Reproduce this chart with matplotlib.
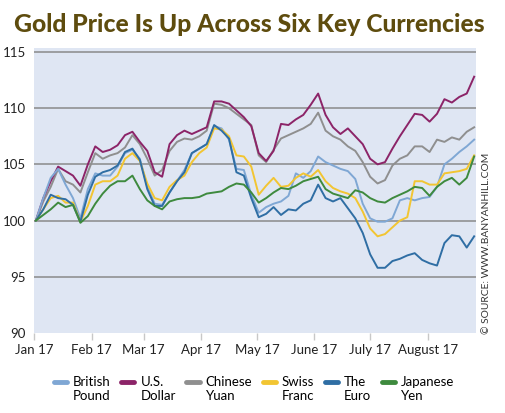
import matplotlib
matplotlib.use("Agg")
import matplotlib.pyplot as plt
import pandas as pd

# sampled every 4 days from Jan 2 2017, index values (Jan 2 = 100)
dates = pd.date_range("2017-01-02", periods=60, freq="4D")

pound = [100.0, 102.0, 103.8, 104.6, 103.2, 102.0, 100.2, 102.8, 104.2, 104.0,
         104.0, 104.8, 106.0, 106.3, 105.5, 103.0, 101.5, 101.4, 102.5, 103.5,
         104.5, 106.0, 106.4, 106.8, 108.4, 108.2, 107.2, 104.6, 104.5, 102.3,
         100.7, 101.2, 101.5, 101.7, 102.2, 104.2, 103.8, 104.4, 105.7, 105.2,
         104.9, 104.6, 104.4, 103.7, 101.5, 100.2, 99.9, 99.9, 100.2, 101.8,
         102.0, 101.8, 102.0, 102.1, 103.0, 105.0, 105.5, 106.1, 106.6, 107.2]
dollar = [100.0, 102.0, 103.5, 104.8, 104.4, 104.0, 103.1, 105.0, 106.6, 106.1,
          106.3, 106.7, 107.6, 107.9, 107.0, 106.2, 104.3, 103.9, 106.8, 107.6,
          108.0, 107.7, 108.0, 108.3, 110.6, 110.6, 110.4, 109.8, 109.2, 108.4,
          106.0, 105.3, 106.2, 108.6, 108.5, 109.0, 109.4, 110.3, 111.3, 109.4,
          108.3, 107.7, 108.2, 107.5, 106.8, 105.5, 105.0, 105.2, 106.4, 107.5,
          108.5, 109.5, 109.4, 108.8, 109.5, 110.8, 110.5, 111.0, 111.3, 112.8]
yuan = [100.0, 101.7, 103.0, 104.6, 103.5, 103.2, 102.5, 104.3, 106.0, 105.5,
        105.8, 106.0, 106.5, 107.6, 106.8, 105.5, 104.0, 104.5, 106.2, 107.0,
        107.3, 107.2, 107.5, 108.0, 110.4, 110.3, 110.0, 109.5, 109.0, 108.5,
        105.8, 105.2, 106.3, 107.3, 107.6, 107.9, 108.2, 108.6, 109.6, 108.0,
        107.5, 107.2, 106.6, 106.2, 105.2, 103.9, 103.3, 103.6, 104.9, 105.5,
        105.8, 106.6, 106.6, 106.1, 107.2, 107.0, 107.4, 107.2, 107.9, 108.3]
franc = [100.0, 101.0, 102.0, 102.2, 101.6, 101.6, 99.9, 101.3, 103.2, 103.5,
         103.5, 104.0, 105.5, 106.0, 105.3, 103.3, 102.0, 101.8, 103.0, 103.6,
         104.0, 105.2, 106.0, 106.5, 108.2, 108.1, 107.5, 105.8, 105.7, 104.8,
         102.3, 103.1, 103.8, 103.0, 103.1, 103.8, 104.2, 103.9, 104.5, 103.5,
         102.9, 102.6, 102.4, 102.0, 100.8, 99.3, 98.6, 98.8, 99.4, 100.0,
         100.3, 103.5, 103.5, 103.2, 103.2, 104.2, 104.3, 104.4, 104.6, 105.8]
euro = [100.0, 101.0, 102.3, 102.0, 101.9, 101.4, 99.9, 102.3, 103.9, 104.3,
        104.5, 104.9, 106.1, 106.4, 105.4, 102.8, 101.3, 101.3, 102.5, 103.5,
        104.3, 106.0, 106.4, 106.8, 108.5, 108.0, 107.3, 104.3, 104.0, 102.0,
        100.3, 100.6, 101.2, 100.5, 101.0, 100.9, 101.5, 101.8, 103.2, 102.0,
        101.7, 102.0, 101.1, 100.2, 98.9, 97.0, 95.8, 95.8, 96.4, 96.6,
        96.9, 97.1, 96.5, 96.2, 96.0, 98.0, 98.7, 98.6, 97.6, 98.6]
yen = [100.0, 100.5, 101.0, 101.6, 101.2, 101.4, 99.8, 100.4, 101.5, 102.4,
       103.1, 103.5, 103.5, 104.0, 102.8, 101.8, 101.3, 101.0, 101.7, 101.9,
       102.0, 102.0, 102.1, 102.4, 102.5, 102.6, 103.0, 103.3, 103.2, 102.5,
       101.6, 102.0, 102.5, 102.9, 102.8, 103.1, 103.5, 103.7, 103.9, 102.8,
       102.4, 102.2, 102.0, 102.7, 102.5, 102.0, 101.7, 101.6, 102.0, 102.3,
       102.6, 103.0, 102.9, 102.2, 103.0, 103.5, 103.8, 103.2, 103.8, 105.7]

labels = ["British\nPound", "U.S.\nDollar", "Chinese\nYuan", "Swiss\nFranc", "The\nEuro", "Japanese\nYen"]
colors = ["#7fa7d4", "#8c2468", "#8f8f8f", "#f2c532", "#2f6ea4", "#3e8a3e"]
zorders = [4, 3, 2, 5, 6, 7]
month_ticks = pd.date_range("2017-01-01", "2017-08-01", freq="MS")
month_labels = ["Jan 17", "Feb 17", "Mar 17", "Apr 17", "May 17", "June 17", "July 17", "August 17"]
yticks = [90, 95, 100, 105, 110, 115]

plt.rcParams["font.family"] = ["Lato", "DejaVu Sans"]

fig = plt.figure(figsize=(5.05, 4.13), dpi=100)
ax = fig.add_axes([0.0673, 0.1937, 0.8753, 0.6903])
ax.set_facecolor("#dfe6f3")

for series, lab, col, z in zip([pound, dollar, yuan, franc, euro, yen], labels, colors, zorders):
    ax.plot(dates, series, color=col, lw=1.4, label=lab, zorder=z)

ax.set_ylim(90, 115.36)
ax.set_xlim(pd.Timestamp("2017-01-01"), pd.Timestamp("2017-08-27"))
ax.set_yticks(yticks)
ax.set_yticklabels([str(v) for v in yticks])
for v in yticks[1:]:
    ax.axhline(v, color="#8a8a8a", lw=1.1, zorder=1)

ax.set_xticks(month_ticks)
ax.set_xticklabels(month_labels)
ax.tick_params(axis="x", length=5, color="#c8c8c8", width=1, pad=3, labelsize=9.5, labelcolor="#222222")
ax.tick_params(axis="y", length=0, pad=6, labelsize=9.5, labelcolor="#222222")
for s in ax.spines.values():
    s.set_visible(False)

fig.text(0.028, 0.94, "Gold Price Is Up Across Six Key Currencies", fontsize=17.8,
         fontweight="black", color="#5e4c0e", va="center", ha="left")
fig.text(0.963, 0.41, "\u00a9 SOURCE: WWW.BANYANHILL.COM", rotation=90, fontsize=7.4,
         color="#333333", ha="center", va="center")

leg = fig.legend(loc="center", bbox_to_anchor=(0.503, 0.058), ncol=6, frameon=False,
                 fontsize=9.5, handlelength=1.0, handletextpad=0.45, columnspacing=0.8,
                 labelspacing=0.2, handleheight=0.7)
# put each swatch beside the first line of its two-line label
for line in leg.get_lines():
    line.set_linewidth(3.5)
    line.set_solid_capstyle("round")
    line.set_ydata([y + 5.5 for y in line.get_ydata()])

fig.savefig("out.png", dpi=100)
